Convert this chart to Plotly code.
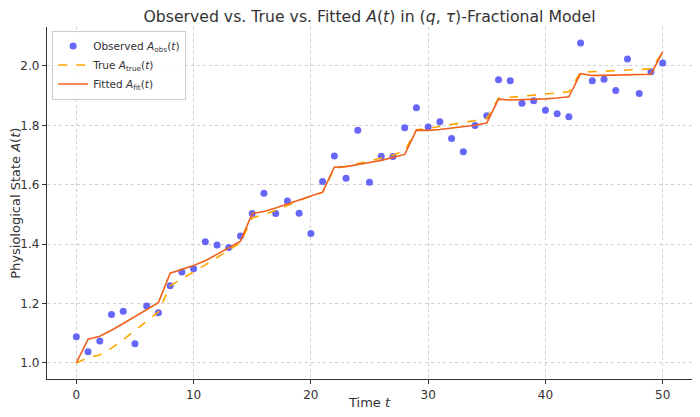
import plotly.graph_objects as go

t = list(range(51))

a_obs = [1.088, 1.038, 1.074, 1.163, 1.174, 1.065, 1.192, 1.169, 1.260, 1.306,
         1.317, 1.408, 1.397, 1.389, 1.427, 1.503, 1.571, 1.503, 1.545, 1.504,
         1.436, 1.611, 1.697, 1.622, 1.783, 1.608, 1.696, 1.695, 1.792, 1.859,
         1.794, 1.812, 1.756, 1.711, 1.799, 1.832, 1.953, 1.950, 1.874, 1.883,
         1.851, 1.839, 1.829, 2.077, 1.950, 1.955, 1.917, 2.023, 1.907, 1.980,
         2.010]

a_true = [1.000, 1.018, 1.027, 1.050, 1.078, 1.109, 1.140, 1.172, 1.260, 1.283,
          1.305, 1.330, 1.355, 1.380, 1.405, 1.488, 1.500, 1.513, 1.530, 1.545,
          1.562, 1.574, 1.655, 1.662, 1.670, 1.680, 1.690, 1.700, 1.714, 1.785,
          1.790, 1.796, 1.803, 1.809, 1.816, 1.823, 1.891, 1.894, 1.898, 1.902,
          1.905, 1.909, 1.913, 1.979, 1.980, 1.982, 1.984, 1.986, 1.988, 1.990,
          2.045]

a_fit = [1.000, 1.080, 1.090, 1.110, 1.133, 1.156, 1.180, 1.203, 1.302, 1.314,
         1.328, 1.344, 1.366, 1.388, 1.410, 1.503, 1.510, 1.522, 1.536, 1.548,
         1.562, 1.575, 1.659, 1.661, 1.667, 1.675, 1.682, 1.691, 1.702, 1.784,
         1.783, 1.786, 1.790, 1.794, 1.800, 1.808, 1.888, 1.885, 1.886, 1.888,
         1.889, 1.892, 1.896, 1.974, 1.968, 1.968, 1.969, 1.970, 1.971, 1.972,
         2.047]

x_ticks = [0, 10, 20, 30, 40, 50]
y_ticks = [1.0, 1.2, 1.4, 1.6, 1.8, 2.0]

FONT = "DejaVu Sans"

fig = go.Figure()
fig.add_trace(go.Scatter(
    x=t, y=a_obs, mode="markers",
    marker=dict(color="rgba(85,85,248,0.9)", size=7),
    name="Observed <i>A</i><sub>obs</sub>(<i>t</i>)"))
fig.add_trace(go.Scatter(
    x=t, y=a_true, mode="lines",
    line=dict(color="#FFA500", width=1.6, dash="dash"),
    name="True <i>A</i><sub>true</sub>(<i>t</i>)"))
fig.add_trace(go.Scatter(
    x=t, y=a_fit, mode="lines",
    line=dict(color="#F0601E", width=1.6),
    name="Fitted <i>A</i><sub>fit</sub>(<i>t</i>)"))

axis_common = dict(
    showgrid=True, gridcolor="#d0d0d0", griddash="dot", gridwidth=1,
    zeroline=False, showline=True, linecolor="#333333", linewidth=1.3,
    ticks="outside", ticklen=4, tickcolor="#333333",
    tickfont=dict(family=FONT, size=12, color="#333333"),
    mirror=False, automargin=False,
)

# page is rendered with an 8px body margin; margins compensate for it
fig.update_layout(
    width=700, height=417,
    paper_bgcolor="white", plot_bgcolor="white",
    margin=dict(l=39, r=16, t=19, b=46),
    font=dict(family=FONT, color="#333333"),
    title=dict(
        text="Observed vs. True vs. Fitted <i>A</i>(<i>t</i>) in (<i>q</i>, <i>τ</i>)-Fractional Model",
        x=0.5, xref="paper", xanchor="center", y=0.979, yanchor="middle",
        font=dict(family=FONT, size=15.7, color="#333333")),
    xaxis=dict(range=[-2.5, 52.5], tickvals=x_ticks, **axis_common),
    yaxis=dict(range=[0.946, 2.131], tickvals=y_ticks, tickformat=".1f", **axis_common),
    legend=dict(x=0.008, y=0.99, xanchor="left", yanchor="top",
                bgcolor="rgba(255,255,255,0.85)", bordercolor="#cccccc", borderwidth=1,
                font=dict(family=FONT, size=10.5, color="#333333"),
                tracegroupgap=0, itemwidth=30),
    showlegend=True,
    annotations=[
        dict(text="Time <i>t</i>", xref="paper", yref="paper", x=0.5, y=-0.068,
             xanchor="center", yanchor="middle", showarrow=False,
             font=dict(family=FONT, size=13, color="#333333")),
        dict(text="Physiological State <i>A</i>(<i>t</i>)", xref="paper", yref="paper",
             x=-0.05, y=0.5, xanchor="center", yanchor="middle", textangle=-90,
             showarrow=False, font=dict(family=FONT, size=13, color="#333333")),
    ],
)

fig.write_html("out.html")
